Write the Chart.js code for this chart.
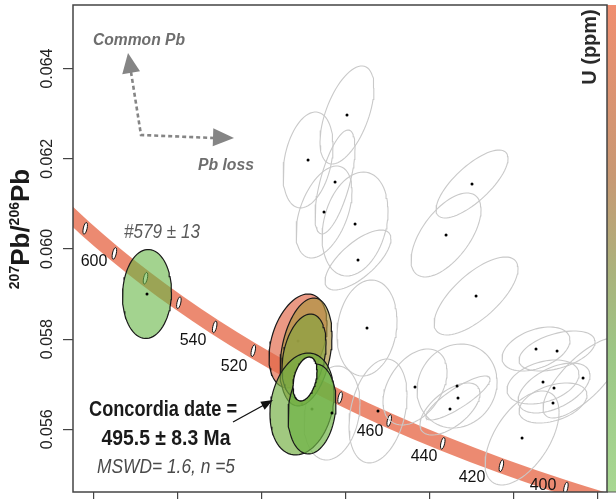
<!DOCTYPE html>
<html>
<head>
<meta charset="utf-8">
<script src="https://cdn.jsdelivr.net/npm/chart.js@4.4.0/dist/chart.umd.min.js"></script>
<style>
  html, body { margin: 0; padding: 0; background: #fff; overflow: hidden; }
  #quadro { width: 616px; height: 499px; position: relative; }
</style>
</head>
<body>
<div id="quadro"><canvas id="grafico"></canvas></div>
<script>
// eixos (238U/206Pb e 207Pb/206Pb)
const xTicks = [10, 11, 12, 13, 14, 15, 16];
const yTicks = [0.056, 0.058, 0.060, 0.062, 0.064];

// concordia (idade em Ma)
const concordiaIdades = [640, 620, 600, 580, 560, 540, 520, 500, 480, 460, 440, 420, 400, 380];
const concordiaX = [9.581, 9.905, 10.252, 10.622, 11.019, 11.445, 11.904, 12.399, 12.936, 13.520, 14.157, 14.854, 15.621, 16.469];
const concordiaY = [0.061022, 0.060457, 0.059901, 0.059351, 0.058808, 0.058272, 0.057743, 0.057220, 0.056703, 0.056193, 0.055690, 0.055192, 0.054700, 0.054215];

const marcadoresIdade = [620, 600, 580, 560, 540, 520, 500, 480, 460, 440, 420, 400];

const rotulosIdade = [600, 540, 520, 460, 440, 420, 400];
const rotulosX = [10.010, 11.187, 11.675, 13.292, 13.934, 14.505, 15.349];
const rotulosY = [0.059711, 0.057959, 0.057382, 0.055941, 0.055386, 0.054921, 0.054743];

// analises descartadas (cinza)
const cinzaX = [13.018, 12.555, 12.876, 12.745, 13.114, 13.149, 14.505, 14.196, 14.553, 13.256, 13.827, 14.327, 14.338, 14.243, 13.387, 12.840, 15.266, 15.516, 15.825, 15.349, 15.480, 15.468, 15.100];
const cinzaY = [0.062971, 0.061973, 0.061485, 0.060820, 0.060553, 0.059755, 0.061440, 0.060310, 0.058957, 0.058247, 0.056939, 0.056961, 0.056695, 0.056451, 0.056407, 0.056362, 0.057781, 0.057737, 0.057138, 0.057050, 0.056917, 0.056584, 0.055808];
const cinzaSx = [0.321, 0.297, 0.238, 0.333, 0.392, 0.392, 0.428, 0.416, 0.499, 0.357, 0.381, 0.476, 0.381, 0.357, 0.345, 0.333, 0.404, 0.452, 0.476, 0.428, 0.428, 0.404, 0.440];
const cinzaSy = [0.001087, 0.001064, 0.001153, 0.001020, 0.001153, 0.000665, 0.000754, 0.000931, 0.000865, 0.001064, 0.000843, 0.000931, 0.000488, 0.000577, 0.001153, 0.001042, 0.000488, 0.000444, 0.000887, 0.000488, 0.000554, 0.000444, 0.001042];
const cinzaRho = [0.55, 0.3, 0.65, 0.45, 0.25, 0.7, 0.75, 0.6, 0.7, 0.15, 0.4, 0.1, 0.85, 0.6, 0.3, 0.2, 0.4, 0.45, 0.75, 0.35, 0.5, 0.4, 0.55];

// analises da idade concordia (n = 5), cor pelo U
const usadasX = [12.436, 12.531, 12.507, 12.483, 12.602];
const usadasY = [0.057959, 0.057715, 0.057626, 0.056562, 0.056451];
const usadasSx = [0.345, 0.309, 0.262, 0.381, 0.285];
const usadasSy = [0.001042, 0.001197, 0.000931, 0.001131, 0.000998];
const usadasRho = [0.35, 0.3, 0.3, 0.2, 0.15];
const usadasU = [0.95, 0.55, 0.3, 0.15, 0.1];

// grao herdado #579
const herdadoX = [10.640];
const herdadoY = [0.059001];
const herdadoSx = [0.291];
const herdadoSy = [0.000987];
const herdadoRho = [0.05];
const herdadoU = [0.05];

// elipse da idade concordia 495.5 Ma
const dataX = [12.519];
const dataY = [0.057116];
const dataSx = [0.143];
const dataSy = [0.000488];
const dataRho = [0.35];

function pontosElipse(cx, cy, sx, sy, rho) {
  const pts = [];
  const k = Math.sqrt(1 - rho * rho);
  for (let i = 0; i <= 72; i++) {
    const t = i / 72 * 2 * Math.PI;
    pts.push({ x: cx + sx * Math.cos(t), y: cy + sy * (rho * Math.cos(t) + k * Math.sin(t)) });
  }
  return pts;
}

function corU(u, alfa) {
  const verde = [95, 185, 70], oliva = [165, 152, 62], verm = [232, 100, 75];
  let a, b, t;
  if (u < 0.5) { a = verde; b = oliva; t = u / 0.5; } else { a = oliva; b = verm; t = (u - 0.5) / 0.5; }
  const c = a.map((v, i) => Math.round(v + (b[i] - v) * t));
  return `rgba(${c[0]},${c[1]},${c[2]},${alfa})`;
}

const datasets = [];

datasets.push({
  label: "concordia",
  data: concordiaX.map((x, i) => ({ x, y: concordiaY[i] })),
  borderColor: "rgba(232,112,82,0.82)",
  borderWidth: 15,
  borderCapStyle: "butt",
  cubicInterpolationMode: "monotone",
  fill: false,
  order: 20
});

cinzaX.forEach((x, i) => {
  datasets.push({
    data: pontosElipse(x, cinzaY[i], cinzaSx[i], cinzaSy[i], cinzaRho[i]),
    borderColor: "#c9c9c9",
    borderWidth: 1.1,
    fill: false,
    order: 15
  });
});

datasets.push({
  data: usadasX.map((x, i) => ({ x, y: usadasY[i] })),
  showLine: false,
  pointRadius: 1.5,
  pointBackgroundColor: "#000",
  pointBorderWidth: 0,
  order: 12
});

usadasX.forEach((x, i) => {
  datasets.push({
    data: pontosElipse(x, usadasY[i], usadasSx[i], usadasSy[i], usadasRho[i]),
    borderColor: "#1a1a1a",
    borderWidth: 1.2,
    backgroundColor: corU(usadasU[i], 0.68),
    fill: "shape",
    order: 11 - i * 0.1
  });
});

herdadoX.forEach((x, i) => {
  datasets.push({
    data: pontosElipse(x, herdadoY[i], herdadoSx[i], herdadoSy[i], herdadoRho[i]),
    borderColor: "#1a1a1a",
    borderWidth: 1.2,
    backgroundColor: corU(herdadoU[i], 0.6),
    fill: "shape",
    order: 10
  });
});

dataX.forEach((x, i) => {
  datasets.push({
    data: pontosElipse(x, dataY[i], dataSx[i], dataSy[i], dataRho[i]),
    borderColor: "#111",
    borderWidth: 1.3,
    backgroundColor: "#fff",
    fill: "shape",
    order: 5
  });
});

datasets.push({
  data: cinzaX.map((x, i) => ({ x, y: cinzaY[i] })).concat(herdadoX.map((x, i) => ({ x, y: herdadoY[i] }))),
  showLine: false,
  pointRadius: 1.5,
  pointBackgroundColor: "#000",
  pointBorderWidth: 0,
  order: 1
});

function pontaSeta(ctx, tx, ty, fx, fy, comp, larg) {
  const ang = Math.atan2(ty - fy, tx - fx);
  const bx = tx - comp * Math.cos(ang), by = ty - comp * Math.sin(ang);
  ctx.beginPath();
  ctx.moveTo(tx, ty);
  ctx.lineTo(bx + larg * Math.sin(ang), by - larg * Math.cos(ang));
  ctx.lineTo(bx - larg * Math.sin(ang), by + larg * Math.cos(ang));
  ctx.closePath();
  ctx.fill();
}

function texto(ctx, str, x, y, fonte, cor, maxW) {
  ctx.font = fonte;
  ctx.fillStyle = cor;
  ctx.textAlign = "center";
  ctx.textBaseline = "alphabetic";
  ctx.fillText(str, x, y, maxW);
}

const pluginDesenho = {
  id: "desenho",
  afterDatasetDraw(chart, args) {
    if (chart.data.datasets[args.index].label !== "concordia") return;
    const ctx = chart.ctx, xs = chart.scales.x, ys = chart.scales.y;
    const a = chart.chartArea;
    ctx.save();
    ctx.beginPath();
    ctx.rect(a.left, a.top, a.right - a.left, a.bottom - a.top);
    ctx.clip();
    marcadoresIdade.forEach(idade => {
      const i = concordiaIdades.indexOf(idade);
      const px = xs.getPixelForValue(concordiaX[i]);
      const py = ys.getPixelForValue(concordiaY[i]);
      ctx.beginPath();
      ctx.ellipse(px, py, 1.9, 6, 0.22, 0, 2 * Math.PI);
      ctx.fillStyle = "#fff";
      ctx.fill();
      ctx.lineWidth = 1;
      ctx.strokeStyle = "#111";
      ctx.stroke();
    });
    ctx.restore();
  },
  afterDraw(chart) {
    const ctx = chart.ctx, ys = chart.scales.y, xs = chart.scales.x;
    const a = chart.chartArea;
    ctx.save();

    // barra de cor U (ppm)
    const grad = ctx.createLinearGradient(0, a.top, 0, a.bottom);
    grad.addColorStop(0, "#f08e70");
    grad.addColorStop(0.35, "#c89873");
    grad.addColorStop(0.55, "#aab27c");
    grad.addColorStop(0.72, "#9cc786");
    grad.addColorStop(1, "#a8d892");
    ctx.fillStyle = grad;
    ctx.fillRect(a.right, a.top, 616 - a.right, a.bottom - a.top);
    ctx.strokeStyle = "#555";
    ctx.lineWidth = 1;
    ctx.beginPath();
    ctx.moveTo(a.right, a.bottom);
    ctx.lineTo(616, a.bottom);
    ctx.stroke();

    // moldura
    ctx.strokeStyle = "#444";
    ctx.lineWidth = 1.5;
    ctx.strokeRect(a.left, a.top, a.right - a.left, a.bottom - a.top);

    // rotulos do eixo y (verticais)
    ctx.fillStyle = "#222";
    ctx.font = '16px "Liberation Sans", Arial, sans-serif';
    ctx.textAlign = "center";
    ctx.textBaseline = "alphabetic";
    yTicks.forEach(v => {
      ctx.save();
      ctx.translate(a.left - 21, ys.getPixelForValue(v));
      ctx.rotate(-Math.PI / 2);
      ctx.fillText(v.toFixed(3), 0, 0);
      ctx.restore();
    });

    // titulo do eixo y
    const partes = [
      { t: "207", sup: true }, { t: "Pb" }, { t: "/" }, { t: "206", sup: true }, { t: "Pb" }
    ];
    const fGrande = 'bold 26px "Liberation Sans", Arial, sans-serif';
    const fSup = 'bold 14px "Liberation Sans", Arial, sans-serif';
    let total = 0;
    partes.forEach(p => { ctx.font = p.sup ? fSup : fGrande; p.w = ctx.measureText(p.t).width; total += p.w; });
    ctx.save();
    ctx.translate(29, 229);
    ctx.rotate(-Math.PI / 2);
    ctx.textAlign = "left";
    ctx.fillStyle = "#1a1a1a";
    let pos = -total / 2;
    partes.forEach(p => {
      ctx.font = p.sup ? fSup : fGrande;
      ctx.fillText(p.t, pos, p.sup ? -10 : 0);
      pos += p.w;
    });
    ctx.restore();

    // titulo da barra de cor
    ctx.save();
    ctx.translate(596, 47);
    ctx.rotate(-Math.PI / 2);
    ctx.font = 'bold 20px "Liberation Sans", Arial, sans-serif';
    ctx.fillStyle = "#2a2a2a";
    ctx.textAlign = "center";
    ctx.fillText("U (ppm)", 0, 0);
    ctx.restore();

    // idades na concordia
    ctx.font = '16px "Liberation Sans", Arial, sans-serif';
    ctx.fillStyle = "#111";
    ctx.textAlign = "center";
    ctx.textBaseline = "middle";
    rotulosIdade.forEach((idade, i) => {
      ctx.fillText(String(idade), xs.getPixelForValue(rotulosX[i]), ys.getPixelForValue(rotulosY[i]));
    });

    // setas Common Pb / Pb loss
    ctx.strokeStyle = "#858585";
    ctx.fillStyle = "#858585";
    ctx.lineWidth = 2.6;
    ctx.setLineDash([4, 3]);
    ctx.beginPath();
    ctx.moveTo(131, 72);
    ctx.lineTo(141, 135);
    ctx.lineTo(214, 138);
    ctx.stroke();
    ctx.setLineDash([]);
    pontaSeta(ctx, 128, 53, 141, 135, 20, 9);
    pontaSeta(ctx, 234, 138, 141, 135, 21, 9);

    texto(ctx, "Common Pb", 139, 45, 'italic bold 16px "Liberation Sans", Arial, sans-serif', "#6e6e6e", 92);
    texto(ctx, "Pb loss", 226, 170, 'italic bold 16px "Liberation Sans", Arial, sans-serif', "#6e6e6e", 56);

    texto(ctx, "#579 \u00b1 13", 162, 238, 'italic 21px "Liberation Sans Narrow", "Liberation Sans", Arial, sans-serif', "#5a5a5a", 76);
    texto(ctx, "Concordia date =", 163, 416, 'bold 22px "Liberation Sans Narrow", "Liberation Sans", Arial, sans-serif', "#1a1a1a", 148);
    texto(ctx, "495.5 \u00b1 8.3 Ma", 166, 445, 'bold 22px "Liberation Sans Narrow", "Liberation Sans", Arial, sans-serif', "#1a1a1a", 129);
    texto(ctx, "MSWD= 1.6, n =5", 166, 473, 'italic 20px "Liberation Sans Narrow", "Liberation Sans", Arial, sans-serif', "#4a4a4a", 138);

    // seta da idade concordia
    ctx.strokeStyle = "#111";
    ctx.fillStyle = "#111";
    ctx.lineWidth = 1.3;
    ctx.beginPath();
    ctx.moveTo(233, 422);
    ctx.lineTo(264, 405);
    ctx.stroke();
    pontaSeta(ctx, 273, 400, 233, 422, 12, 4.5);

    ctx.restore();
  }
};

new Chart(document.getElementById("grafico"), {
  type: "line",
  data: { datasets },
  options: {
    responsive: true,
    maintainAspectRatio: false,
    animation: false,
    events: [],
    layout: { padding: { top: 5, right: 9, left: 0, bottom: 0 } },
    elements: { point: { radius: 0 }, line: { tension: 0 } },
    plugins: { legend: { display: false }, tooltip: { enabled: false } },
    scales: {
      x: {
        type: "linear",
        min: 9.76,
        max: 16.11,
        border: { display: false },
        grid: { drawOnChartArea: false, drawTicks: true, tickLength: 7, color: "#444", lineWidth: 1.2 },
        ticks: { display: false },
        afterBuildTicks: scale => { scale.ticks = xTicks.map(v => ({ value: v })); },
        afterFit: scale => { scale.height = 7; }
      },
      y: {
        type: "linear",
        min: 0.05461,
        max: 0.06541,
        border: { display: false },
        grid: { drawOnChartArea: false, drawTicks: true, tickLength: 10, color: "#444", lineWidth: 1.2 },
        ticks: { display: false },
        afterBuildTicks: scale => { scale.ticks = yTicks.map(v => ({ value: v })); },
        afterFit: scale => { scale.width = 73; }
      }
    }
  },
  plugins: [pluginDesenho]
});
</script>
</body>
</html>
